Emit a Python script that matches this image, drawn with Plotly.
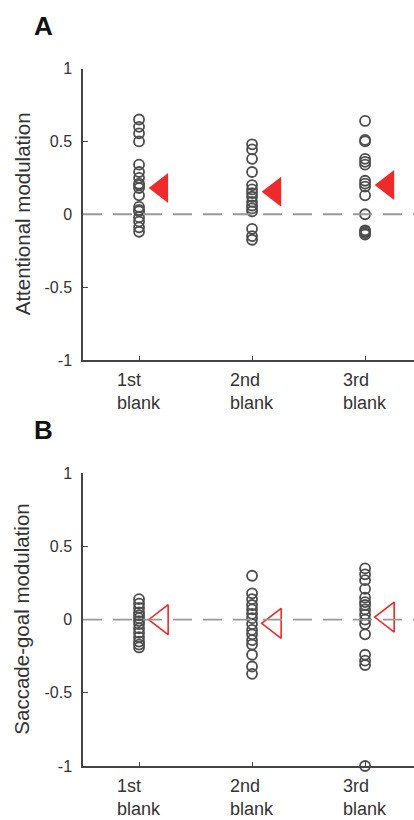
import plotly.graph_objects as go

# ---------------- data ----------------
categories = ["1st<br>blank", "2nd<br>blank", "3rd<br>blank"]
cat_pos = [1, 2, 3]

attn_1st = [0.65, 0.60, 0.555, 0.50, 0.34, 0.29, 0.25, 0.21, 0.20, 0.18, 0.13,
            0.05, 0.03, 0.02, -0.02, -0.05, -0.09, -0.12]
attn_2nd = [0.48, 0.445, 0.38, 0.29, 0.20, 0.17, 0.145, 0.12, 0.085, 0.06, 0.04,
            0.02, -0.10, -0.15, -0.175]
attn_3rd = [0.64, 0.51, 0.50, 0.38, 0.36, 0.34, 0.23, 0.21, 0.19, 0.13, 0.00,
            -0.11, -0.12, -0.13, -0.14]
attn_summary = [0.18, 0.155, 0.20]

sacc_1st = [0.14, 0.11, 0.08, 0.05, 0.03, 0.01, -0.01, -0.03, -0.06, -0.09,
            -0.12, -0.15, -0.17, -0.19]
sacc_2nd = [0.30, 0.18, 0.14, 0.10, 0.07, 0.04, 0.01, -0.03, -0.07, -0.10,
            -0.14, -0.17, -0.24, -0.32, -0.37]
sacc_3rd = [0.35, 0.31, 0.27, 0.21, 0.15, 0.12, 0.10, 0.07, 0.035, 0.00,
            -0.03, -0.10, -0.24, -0.28, -0.31, -1.00]
sacc_summary = [0.0, -0.025, 0.018]

y_ticks = [-1, -0.5, 0, 0.5, 1]
y_ticktext = ["-1", "-0.5", "0", "0.5", "1"]

panel_titles = ["Attentional modulation", "Saccade-goal modulation"]
panel_letters = ["A", "B"]

# ---------------- style ----------------
W, H = 414, 820
FONT = "Liberation Sans, Arial, Helvetica, sans-serif"
TXT = "#333333"
AXC = "#444444"
CIRC = "#4d4d4d"
RED = "#ee2a2a"
TRI_OFFSET = 0.2


def py(p):
    return 1 - p / H


fig = go.Figure()

panels = [
    dict(vals=[attn_1st, attn_2nd, attn_3rd], summ=attn_summary, xa="x", ya="y",
         filled=True, top=68.5, bottom=360),
    dict(vals=[sacc_1st, sacc_2nd, sacc_3rd], summ=sacc_summary, xa="x2", ya="y2",
         filled=False, top=473.3, bottom=766),
]

for p in panels:
    for pos, vals in zip(cat_pos, p["vals"]):
        fig.add_trace(go.Scatter(
            x=[pos] * len(vals), y=vals, mode="markers", xaxis=p["xa"], yaxis=p["ya"],
            marker=dict(symbol="circle-open", size=10, color=CIRC, line=dict(width=1.8, color=CIRC)),
            cliponaxis=False, showlegend=False, hoverinfo="skip"))
    fig.add_trace(go.Scatter(
        x=[c + TRI_OFFSET for c in cat_pos], y=p["summ"], mode="markers",
        xaxis=p["xa"], yaxis=p["ya"],
        marker=dict(symbol="triangle-left" if p["filled"] else "triangle-left-open",
                    size=26, color=RED, line=dict(width=0 if p["filled"] else 1.6, color=RED)),
        cliponaxis=False, showlegend=False, hoverinfo="skip"))

xdom = [83 / W, 1]
common_x = dict(domain=xdom, range=[0.504, 3.433], showline=True, linecolor=AXC, linewidth=1.5,
                ticks="inside", tickvals=cat_pos, ticklen=4, tickcolor=AXC, tickwidth=1.2,
                showticklabels=False, showgrid=False, zeroline=False, automargin=False)
common_y = dict(range=[-1, 1], tickvals=y_ticks, ticktext=y_ticktext, showline=True,
                linecolor=AXC, linewidth=1.5, ticks="inside", ticklen=5, tickcolor=AXC,
                tickwidth=1.2, showgrid=False, zeroline=False, ticklabelstandoff=6,
                automargin=False, tickfont=dict(family=FONT, size=16, color=TXT))

fig.update_layout(
    width=W, height=H, autosize=False,
    margin=dict(l=0, r=0, t=0, b=0, pad=0, autoexpand=False),
    plot_bgcolor="white", paper_bgcolor="white", showlegend=False,
    xaxis=dict(**common_x, anchor="y"),
    yaxis=dict(**common_y, domain=[py(360), py(68.5)], anchor="x"),
    xaxis2=dict(**common_x, anchor="y2"),
    yaxis2=dict(**common_y, domain=[py(766), py(473.3)], anchor="x2"),
)

annotations = []
shapes = []
for i, p in enumerate(panels):
    # zero dashed reference
    shapes.append(dict(type="line", xref=p["xa"] + " domain", x0=0, x1=1, yref=p["ya"], y0=0, y1=0,
                       line=dict(color="#999999", width=1.8, dash="19px,11px"), layer="above"))
    # axis title
    annotations.append(dict(text=panel_titles[i], xref="paper", yref="paper", x=22 / W,
                            y=py((p["top"] + p["bottom"]) / 2), textangle=-90, showarrow=False,
                            xanchor="center", yanchor="middle",
                            font=dict(family=FONT, size=20.5, color=TXT)))
    # panel letter
    annotations.append(dict(text="<b>%s</b>" % panel_letters[i], xref="paper", yref="paper",
                            x=32 / W, y=py(p["top"] - 43), showarrow=False, xanchor="left",
                            yanchor="middle", font=dict(family=FONT, size=26, color="#111111")))
    # category labels
    for pos, lab in zip(cat_pos, categories):
        annotations.append(dict(text=lab, xref=p["xa"], yref="paper", x=pos,
                                y=py(p["bottom"] + 8), showarrow=False, xanchor="center",
                                yanchor="top", align="left",
                                font=dict(family=FONT, size=18, color=TXT)))

fig.update_layout(annotations=annotations, shapes=shapes)
fig.write_html("out.html")
